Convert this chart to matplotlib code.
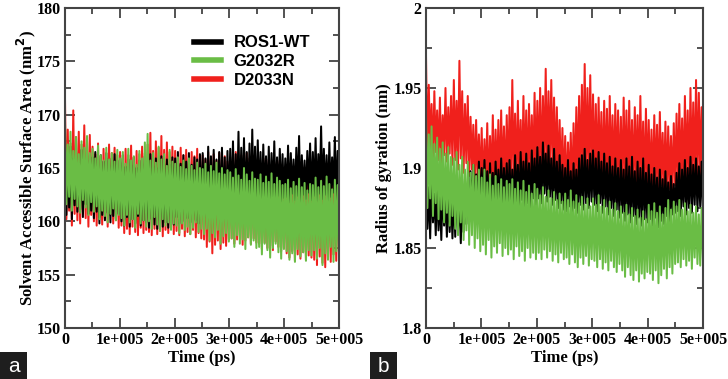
import numpy as np
import matplotlib
matplotlib.use('Agg')
import matplotlib.pyplot as plt
from matplotlib.lines import Line2D
from matplotlib.patches import Rectangle
from matplotlib.ticker import MultipleLocator

# ---- values, 0 - 5e5 ps, one row per 50 ns ----
# SASA (nm^2)
sasa_wt = [
    166.8, 160.6, 165.6, 161.3, 167.0, 160.2, 165.9, 161.5, 166.4, 160.9, 165.5, 161.1, 166.7, 160.4, 165.8, 161.6, 166.2, 160.7, 165.7, 161.0,
    166.0, 160.3, 166.5, 160.9, 165.4, 159.8, 166.2, 160.6, 165.6, 160.1, 166.4, 160.8, 165.3, 159.9, 165.9, 160.5, 166.3, 160.2, 165.7, 160.7,
    165.5, 160.0, 166.2, 159.6, 165.1, 160.4, 165.8, 159.5, 165.3, 160.2, 166.0, 159.8, 165.0, 160.5, 165.7, 159.6, 165.4, 160.1, 166.1, 159.9,
    165.6, 159.4, 166.3, 160.2, 165.2, 159.7, 165.9, 159.3, 165.0, 160.0, 166.1, 159.5, 165.4, 159.9, 165.8, 159.4, 165.3, 160.3, 166.0, 159.7,
    165.9, 160.4, 166.5, 159.8, 165.4, 160.6, 166.2, 160.0, 165.6, 160.3, 166.4, 159.9, 165.3, 160.5, 166.0, 160.1, 165.8, 159.8, 166.3, 160.6,
    166.4, 160.9, 165.9, 160.3, 167.0, 161.0, 166.1, 160.5, 166.7, 160.8, 165.8, 161.1, 166.5, 160.4, 166.9, 160.9, 166.0, 160.6, 166.6, 161.2,
    166.8, 161.4, 167.5, 160.9, 166.3, 161.6, 168.4, 161.1, 166.9, 161.8, 167.8, 161.3, 166.5, 161.7, 167.3, 161.0, 168.6, 161.9, 167.0, 161.5,
    167.6, 162.1, 166.5, 161.6, 167.2, 162.3, 166.1, 161.8, 167.0, 161.5, 166.4, 162.2, 167.5, 161.7, 166.0, 162.4, 166.8, 161.9, 166.3, 162.2,
    165.9, 162.3, 167.1, 161.8, 166.4, 162.6, 165.8, 162.0, 166.9, 162.4, 168.0, 161.7, 166.2, 162.5, 165.7, 162.1, 166.6, 162.7, 167.3, 162.0,
    166.5, 162.4, 167.8, 161.9, 166.3, 162.6, 168.9, 162.1, 166.8, 162.5, 166.2, 161.8, 167.4, 162.3, 166.0, 162.7, 167.9, 161.6, 166.6, 162.2,
]
sasa_g2032r = [
    169.3, 161.6, 167.2, 162.3, 168.4, 161.0, 166.6, 162.1, 167.9, 161.4, 166.3, 160.8, 167.5, 162.0, 166.9, 161.3, 168.0, 160.6, 166.4, 161.8,
    166.8, 160.9, 165.9, 161.4, 167.1, 160.2, 166.2, 161.0, 165.7, 160.5, 166.9, 159.9, 165.8, 160.7, 166.4, 161.2, 165.6, 160.1, 166.7, 160.6,
    165.9, 160.3, 166.5, 159.6, 165.4, 160.6, 166.8, 159.9, 165.7, 160.2, 166.1, 159.4, 165.3, 160.7, 166.6, 159.8, 165.9, 160.1, 167.4, 159.5,
    168.2, 160.0, 165.7, 159.3, 166.4, 160.4, 165.5, 159.7, 167.0, 159.1, 165.8, 160.2, 166.3, 159.6, 165.2, 159.9, 166.7, 159.2, 165.6, 159.8,
    165.4, 159.6, 166.0, 158.9, 165.1, 159.8, 165.7, 159.2, 164.9, 159.5, 165.9, 158.8, 165.2, 159.4, 164.8, 159.9, 165.5, 159.0, 165.0, 159.3,
    164.9, 158.8, 165.4, 159.3, 164.6, 158.2, 165.2, 158.9, 164.7, 158.5, 165.5, 159.2, 164.5, 157.9, 165.0, 158.6, 164.4, 158.9, 164.8, 158.1,
    164.6, 158.4, 164.1, 157.6, 164.9, 158.7, 164.3, 157.9, 163.9, 158.3, 165.0, 157.4, 164.4, 158.5, 163.8, 157.8, 164.6, 158.2, 164.0, 157.5,
    163.9, 157.6, 164.4, 156.9, 163.6, 157.9, 164.2, 157.3, 163.7, 156.6, 164.5, 157.5, 163.5, 157.9, 164.1, 157.1, 163.8, 156.5, 163.4, 157.4,
    163.5, 157.2, 163.9, 156.4, 163.1, 157.0, 163.7, 156.2, 163.3, 157.4, 164.0, 156.7, 163.2, 157.1, 163.6, 156.3, 162.9, 157.3, 163.5, 156.8,
    163.4, 157.3, 164.1, 156.5, 163.2, 157.5, 163.8, 155.9, 163.3, 157.0, 164.2, 156.4, 163.5, 157.6, 163.0, 156.2, 163.9, 157.2, 163.4, 156.8,
]
sasa_d2033n = [
    171.4, 160.2, 168.6, 161.0, 167.3, 159.6, 170.4, 160.7, 167.9, 160.1, 168.4, 159.8, 167.2, 160.9, 169.0, 160.3, 167.5, 159.5, 168.1, 160.6,
    167.0, 160.0, 166.3, 159.6, 167.3, 160.4, 166.1, 159.7, 166.8, 160.2, 165.9, 159.5, 167.2, 160.6, 166.4, 159.8, 166.9, 160.1, 166.2, 159.4,
    166.5, 159.6, 165.9, 158.9, 166.8, 159.3, 166.2, 158.8, 167.1, 159.5, 166.0, 159.0, 166.6, 158.7, 166.3, 159.4, 167.0, 158.9, 166.4, 159.2,
    167.2, 159.0, 168.3, 158.7, 166.6, 159.3, 167.5, 158.8, 166.9, 159.1, 168.0, 158.6, 166.7, 159.2, 167.4, 158.9, 166.5, 159.4, 167.0, 158.8,
    166.6, 159.1, 166.0, 158.7, 166.9, 159.3, 166.2, 158.6, 166.7, 159.0, 165.9, 158.8, 166.5, 159.2, 166.1, 158.5, 166.8, 158.9, 166.0, 158.4,
    166.2, 158.3, 165.8, 157.6, 166.5, 158.1, 165.9, 157.0, 166.3, 157.8, 165.7, 158.2, 166.4, 157.4, 165.8, 158.0, 166.1, 157.7, 165.6, 158.3,
    166.0, 158.4, 165.6, 157.9, 166.5, 158.3, 165.7, 158.6, 166.2, 157.8, 165.5, 158.2, 166.4, 158.5, 165.9, 157.9, 166.1, 158.4, 165.6, 158.0,
    165.6, 157.9, 165.1, 157.4, 165.9, 158.0, 165.3, 157.5, 165.8, 157.7, 165.0, 157.3, 165.5, 158.1, 165.2, 157.6, 165.7, 157.2, 165.0, 157.5,
    164.9, 157.0, 165.3, 156.6, 164.6, 157.2, 165.1, 156.3, 164.7, 156.9, 165.2, 156.5, 164.5, 157.1, 165.0, 156.4, 164.8, 156.8, 165.3, 156.6,
    165.2, 156.4, 164.8, 155.9, 165.6, 156.7, 165.0, 156.1, 165.4, 155.7, 164.9, 156.5, 165.5, 156.2, 165.1, 156.9, 165.6, 156.3, 165.2, 157.2,
]

# Radius of gyration (nm)
rg_wt = [
    1.898, 1.862, 1.888, 1.856, 1.893, 1.866, 1.884, 1.858, 1.890, 1.861, 1.882, 1.855, 1.889, 1.864, 1.880, 1.857, 1.887, 1.860, 1.883, 1.856,
    1.885, 1.857, 1.890, 1.862, 1.880, 1.853, 1.887, 1.860, 1.893, 1.865, 1.889, 1.868, 1.898, 1.872, 1.902, 1.870, 1.896, 1.876, 1.904, 1.874,
    1.900, 1.875, 1.905, 1.878, 1.898, 1.872, 1.903, 1.877, 1.897, 1.874, 1.904, 1.879, 1.899, 1.873, 1.906, 1.876, 1.900, 1.878, 1.903, 1.875,
    1.905, 1.877, 1.899, 1.872, 1.908, 1.879, 1.902, 1.874, 1.910, 1.880, 1.904, 1.876, 1.909, 1.878, 1.903, 1.873, 1.911, 1.881, 1.906, 1.877,
    1.913, 1.881, 1.907, 1.878, 1.916, 1.884, 1.909, 1.879, 1.914, 1.882, 1.906, 1.877, 1.912, 1.880, 1.904, 1.875, 1.908, 1.878, 1.902, 1.874,
    1.900, 1.873, 1.905, 1.876, 1.898, 1.871, 1.903, 1.875, 1.899, 1.872, 1.906, 1.877, 1.908, 1.874, 1.912, 1.878, 1.905, 1.875, 1.909, 1.879,
    1.911, 1.877, 1.906, 1.873, 1.910, 1.878, 1.904, 1.872, 1.909, 1.876, 1.903, 1.871, 1.907, 1.875, 1.901, 1.870, 1.906, 1.874, 1.900, 1.869,
    1.905, 1.872, 1.899, 1.867, 1.906, 1.871, 1.901, 1.866, 1.907, 1.870, 1.898, 1.865, 1.904, 1.869, 1.900, 1.864, 1.906, 1.868, 1.897, 1.866,
    1.902, 1.868, 1.896, 1.864, 1.900, 1.869, 1.894, 1.863, 1.899, 1.867, 1.893, 1.865, 1.898, 1.870, 1.891, 1.866, 1.895, 1.871, 1.890, 1.872,
    1.897, 1.873, 1.903, 1.870, 1.899, 1.876, 1.905, 1.871, 1.900, 1.875, 1.907, 1.872, 1.902, 1.877, 1.906, 1.873, 1.901, 1.876, 1.904, 1.872,
]
rg_g2032r = [
    1.932, 1.875, 1.921, 1.881, 1.926, 1.870, 1.915, 1.878, 1.919, 1.868, 1.912, 1.874, 1.916, 1.866, 1.909, 1.872, 1.913, 1.864, 1.907, 1.870,
    1.906, 1.862, 1.910, 1.858, 1.902, 1.866, 1.907, 1.855, 1.899, 1.861, 1.904, 1.852, 1.897, 1.858, 1.902, 1.850, 1.895, 1.856, 1.899, 1.848,
    1.894, 1.852, 1.899, 1.846, 1.891, 1.855, 1.896, 1.844, 1.889, 1.851, 1.895, 1.847, 1.890, 1.853, 1.893, 1.845, 1.888, 1.850, 1.892, 1.846,
    1.890, 1.849, 1.893, 1.843, 1.887, 1.851, 1.891, 1.845, 1.886, 1.848, 1.892, 1.842, 1.885, 1.850, 1.889, 1.844, 1.884, 1.847, 1.890, 1.843,
    1.887, 1.847, 1.883, 1.843, 1.888, 1.849, 1.882, 1.844, 1.886, 1.848, 1.881, 1.842, 1.885, 1.846, 1.880, 1.841, 1.884, 1.847, 1.879, 1.843,
    1.884, 1.844, 1.880, 1.840, 1.886, 1.846, 1.879, 1.841, 1.883, 1.838, 1.878, 1.844, 1.882, 1.840, 1.877, 1.845, 1.881, 1.839, 1.876, 1.843,
    1.881, 1.842, 1.877, 1.838, 1.883, 1.843, 1.876, 1.837, 1.880, 1.841, 1.875, 1.836, 1.879, 1.842, 1.874, 1.838, 1.878, 1.835, 1.873, 1.840,
    1.876, 1.836, 1.872, 1.832, 1.877, 1.838, 1.871, 1.833, 1.875, 1.830, 1.870, 1.836, 1.874, 1.829, 1.869, 1.834, 1.873, 1.831, 1.868, 1.835,
    1.877, 1.834, 1.873, 1.830, 1.878, 1.836, 1.872, 1.828, 1.876, 1.833, 1.871, 1.837, 1.875, 1.831, 1.880, 1.838, 1.874, 1.834, 1.879, 1.840,
    1.876, 1.841, 1.880, 1.838, 1.874, 1.843, 1.878, 1.839, 1.873, 1.842, 1.877, 1.837, 1.872, 1.844, 1.876, 1.840, 1.871, 1.839, 1.875, 1.842,
]
rg_d2033n = [
    1.970, 1.906, 1.952, 1.912, 1.940, 1.903, 1.948, 1.910, 1.936, 1.905, 1.944, 1.901, 1.933, 1.908, 1.950, 1.904, 1.938, 1.909, 1.945, 1.902,
    1.955, 1.905, 1.942, 1.899, 1.967, 1.906, 1.948, 1.897, 1.940, 1.903, 1.945, 1.895, 1.932, 1.899, 1.927, 1.890, 1.930, 1.894, 1.921, 1.886,
    1.925, 1.882, 1.918, 1.889, 1.928, 1.880, 1.920, 1.887, 1.933, 1.884, 1.924, 1.890, 1.930, 1.883, 1.936, 1.889, 1.926, 1.886, 1.933, 1.891,
    1.938, 1.888, 1.955, 1.893, 1.934, 1.889, 1.942, 1.895, 1.930, 1.887, 1.945, 1.893, 1.936, 1.890, 1.940, 1.896, 1.933, 1.892, 1.947, 1.895,
    1.942, 1.897, 1.950, 1.893, 1.945, 1.900, 1.962, 1.896, 1.948, 1.902, 1.955, 1.898, 1.944, 1.895, 1.938, 1.891, 1.930, 1.888, 1.925, 1.884,
    1.920, 1.881, 1.916, 1.886, 1.922, 1.880, 1.928, 1.887, 1.938, 1.890, 1.945, 1.893, 1.952, 1.896, 1.965, 1.892, 1.950, 1.898, 1.958, 1.894,
    1.946, 1.892, 1.940, 1.888, 1.944, 1.893, 1.935, 1.887, 1.942, 1.891, 1.937, 1.886, 1.945, 1.890, 1.933, 1.888, 1.940, 1.892, 1.936, 1.886,
    1.932, 1.886, 1.944, 1.890, 1.936, 1.884, 1.942, 1.889, 1.930, 1.885, 1.938, 1.891, 1.933, 1.886, 1.945, 1.888, 1.929, 1.884, 1.937, 1.889,
    1.930, 1.886, 1.924, 1.883, 1.933, 1.888, 1.927, 1.884, 1.935, 1.889, 1.922, 1.885, 1.929, 1.882, 1.926, 1.887, 1.920, 1.884, 1.928, 1.889,
    1.934, 1.888, 1.940, 1.892, 1.931, 1.886, 1.945, 1.893, 1.936, 1.889, 1.950, 1.894, 1.941, 1.890, 1.955, 1.892, 1.947, 1.896, 1.938, 1.891,
]

series_names = ['ROS1-WT', 'G2032R', 'D2033N']
xtick_values = [0, 1e5, 2e5, 3e5, 4e5, 5e5]
xtick_labels = ['0', '1e+005', '2e+005', '3e+005', '4e+005', '5e+005']

colors = {'ROS1-WT': '#000000', 'G2032R': '#6abd45', 'D2033N': '#f0201c'}
draw_order = ['D2033N', 'ROS1-WT', 'G2032R']

serif = ['Liberation Serif', 'DejaVu Serif']
sans = ['Liberation Sans', 'DejaVu Sans']


def style_axes(ax, ylim, ystep, yminor, ylabel, yfmt, ylabelpad):
    ax.set_xlim(0, 5e5)
    ax.set_ylim(*ylim)
    ax.set_xticks(xtick_values)
    ax.set_xticklabels(xtick_labels)
    ax.xaxis.set_minor_locator(MultipleLocator(5e4))
    ax.yaxis.set_major_locator(MultipleLocator(ystep))
    ax.yaxis.set_minor_locator(MultipleLocator(yminor))
    ax.yaxis.set_major_formatter(plt.FuncFormatter(yfmt))
    ax.tick_params(which='both', direction='in', top=True, right=True,
                   color='#444444', width=1.3)
    ax.tick_params(which='major', length=7, pad=3)
    ax.tick_params(which='minor', length=4)
    for lab in ax.get_xticklabels() + ax.get_yticklabels():
        lab.set_family(serif)
        lab.set_fontweight('bold')
        lab.set_fontsize(11.5)
    for sp in ax.spines.values():
        sp.set_linewidth(1.5)
        sp.set_color('#444444')
    ax.set_xlabel('Time (ps)', family=serif, fontweight='bold', fontsize=12,
                  labelpad=1.5)
    ax.set_ylabel(ylabel, family=serif, fontweight='bold', fontsize=12,
                  labelpad=ylabelpad)


fig = plt.figure(figsize=(7.28, 3.79), dpi=100)
ax_a = fig.add_axes([65 / 728, 51 / 379, 274 / 728, 320 / 379])
ax_b = fig.add_axes([426 / 728, 51 / 379, 277 / 728, 320 / 379])

sasa = {'ROS1-WT': sasa_wt, 'G2032R': sasa_g2032r, 'D2033N': sasa_d2033n}
rg = {'ROS1-WT': rg_wt, 'G2032R': rg_g2032r, 'D2033N': rg_d2033n}

for name in draw_order:
    vals = sasa[name]
    t = np.linspace(0, 5e5, len(vals))
    ax_a.plot(t, vals, color=colors[name], lw=1.45)
    vals = rg[name]
    t = np.linspace(0, 5e5, len(vals))
    ax_b.plot(t, vals, color=colors[name], lw=1.45)

style_axes(ax_a, (150, 180), 5, 2.5,
           'Solvent Accessible Surface Area (nm$^{\\mathbf{2}}$)',
           lambda v, p: '%d' % v, -1)
style_axes(ax_b, (1.8, 2.0), 0.05, 0.025, 'Radius of gyration (nm)',
           lambda v, p: ('%g' % round(v, 3)), 1)

handles = [Line2D([0], [0], color=colors[n], lw=4) for n in series_names]
ax_a.legend(handles, series_names, loc='upper left',
            bbox_to_anchor=(0.445, 0.935), borderaxespad=0, frameon=False,
            handlelength=1.65, handletextpad=0.75, labelspacing=0.22,
            prop={'family': sans, 'weight': 'bold', 'size': 12})

# panel letters
for letter, x0 in [('a', 0), ('b', 370)]:
    fig.add_artist(Rectangle((x0 / 728, 0), 27 / 728, 27 / 379,
                             transform=fig.transFigure,
                             facecolor='#1e1e1e', edgecolor='none'))
    fig.text((x0 + 13.5) / 728, 12.5 / 379, letter, color='white',
             ha='center', va='center', fontsize=15, family=sans)

fig.savefig('out.png', dpi=100)
